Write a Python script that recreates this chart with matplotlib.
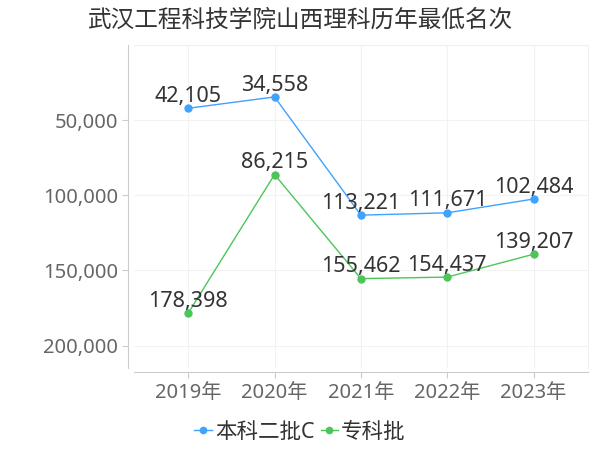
import matplotlib
matplotlib.use("Agg")
import matplotlib.pyplot as plt
from matplotlib.ticker import FuncFormatter

plt.rcParams['font.family'] = ['Noto Sans', 'Noto Sans CJK SC', 'DejaVu Sans']

years = ["2019年", "2020年", "2021年", "2022年", "2023年"]
benke2c = [42105, 34558, 113221, 111671, 102484]
zhuanke = [178398, 86215, 155462, 154437, 139207]
series_names = ["本科二批C", "专科批"]
title = "武汉工程科技学院山西理科历年最低名次"

colors = ["#3ea2ff", "#4cc65a"]

fig = plt.figure(figsize=(6, 4.5), dpi=100)
ax = fig.add_axes([0.223, 0.182, 0.757, 0.718])

x = list(range(len(years)))
for vals, name, c in zip([benke2c, zhuanke], series_names, colors):
    ax.plot(x, vals, '-', color=c, lw=1, marker='o', markersize=5, label=name)
    for xi, v in zip(x, vals):
        ax.annotate(f"{v:,}", (xi, v), xytext=(0, 1), textcoords="offset points",
                    ha="center", va="bottom", fontsize=15.5, color="#333333")

ax.set_xlim(-0.63, 4.63)
ax.set_ylim(215000, 0)
ax.set_yticks([50000, 100000, 150000, 200000])
ax.yaxis.set_major_formatter(FuncFormatter(lambda v, p: f"{int(v):,}"))
ax.set_xticks(x)
ax.set_xticklabels(years)
ax.tick_params(axis='both', colors="#666666", labelsize=14.5, length=4)
ax.tick_params(axis='both', color="#cccccc")

ax.grid(True, color="#f2f2f2", lw=0.8)
for s in ["top", "right"]:
    ax.spines[s].set_color("#f0f0f0")
ax.spines["left"].set_position(("outward", 4))
ax.spines["bottom"].set_position(("outward", 3))
ax.spines["left"].set_color("#cccccc")
ax.spines["bottom"].set_color("#cccccc")

fig.text(0.5, 0.955, title, ha="center", va="center", fontsize=17, color="#333333")

fig.legend(loc="center", bbox_to_anchor=(0.5, 0.04), ncol=2, frameon=False,
           fontsize=15.5, handlelength=0.8, handletextpad=0.15, columnspacing=0.3,
           labelcolor="#333333", markerscale=0.9)

fig.savefig("out.png", dpi=100)
